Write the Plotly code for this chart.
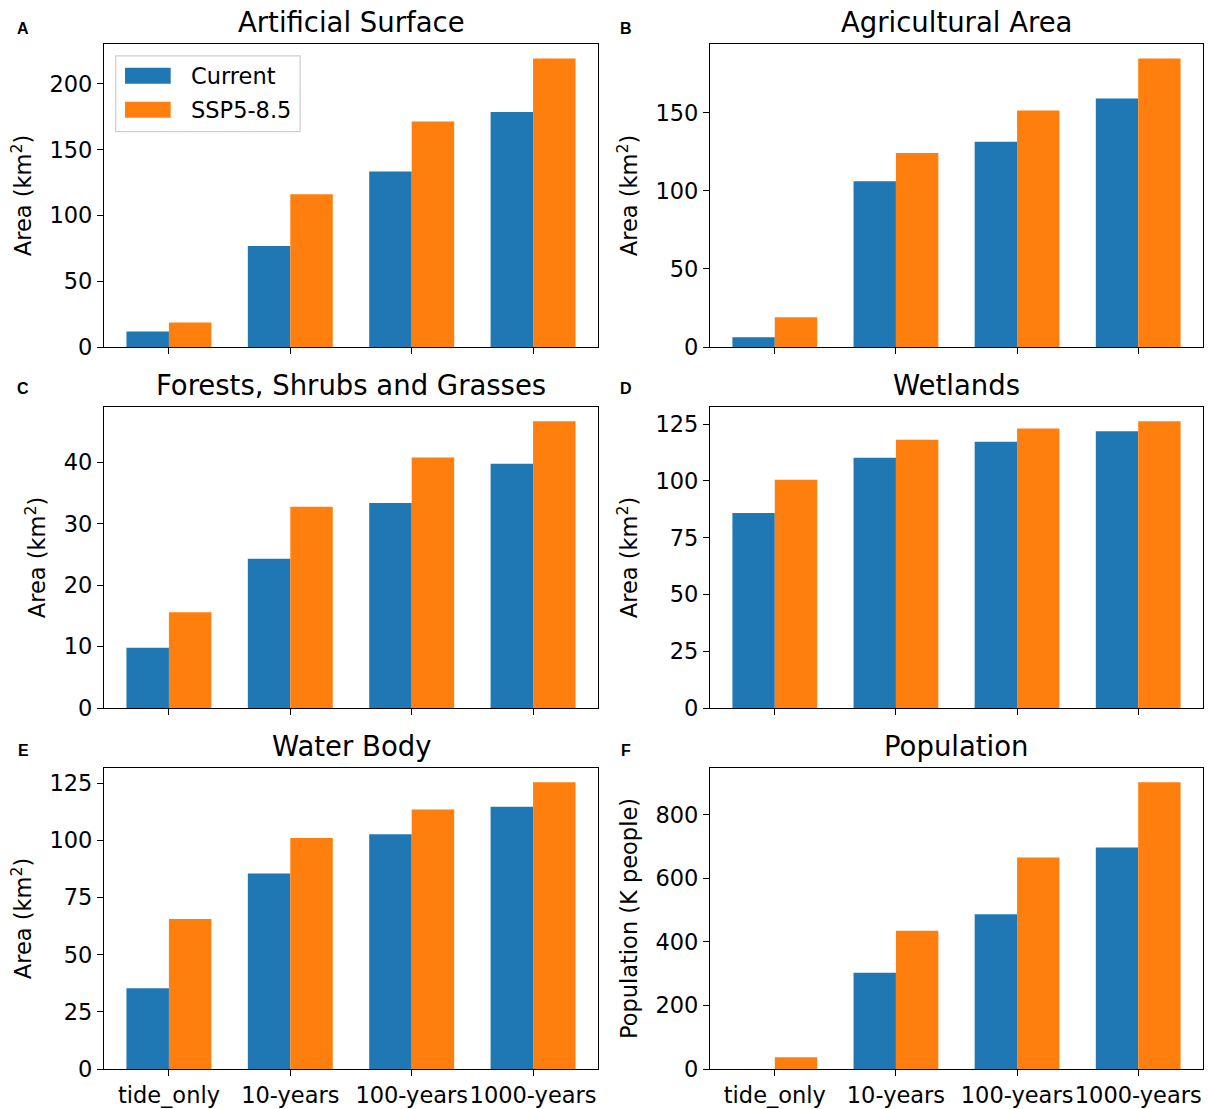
import plotly.graph_objects as go

# ---------------- data ----------------
categories = ["tide_only", "10-years", "100-years", "1000-years"]
series_names = ["Current", "SSP5-8.5"]
series_colors = ["#1f77b4", "#ff7f0e"]

panel_titles = ["Artificial Surface", "Agricultural Area", "Forests, Shrubs and Grasses",
                "Wetlands", "Water Body", "Population"]
panel_letters = ["A", "B", "C", "D", "E", "F"]
y_titles = ["Area (km<sup>2</sup>)"] * 5 + ["Population (K people)"]
y_dticks = [50, 50, 10, 25, 25, 200]

artificial_current = [11.7, 76.8, 133.4, 178.6]
artificial_ssp = [18.6, 116.1, 171.4, 219.4]
agricultural_current = [6.2, 106.1, 131.4, 159.0]
agricultural_ssp = [19.1, 124.1, 151.3, 184.7]
forest_current = [9.8, 24.3, 33.4, 39.8]
forest_ssp = [15.6, 32.8, 40.8, 46.7]
wetlands_current = [85.9, 110.2, 117.2, 121.8]
wetlands_ssp = [100.5, 118.1, 123.1, 126.2]
water_current = [35.3, 85.5, 102.7, 114.7]
water_ssp = [65.6, 101.0, 113.5, 125.4]
population_current = [0.0, 302.6, 487.0, 697.0]
population_ssp = [36.6, 434.6, 665.0, 901.6]

panels = [
    (artificial_current, artificial_ssp),
    (agricultural_current, agricultural_ssp),
    (forest_current, forest_ssp),
    (wetlands_current, wetlands_ssp),
    (water_current, water_ssp),
    (population_current, population_ssp),
]

# ---------------- layout geometry ----------------
W, H = 1208, 1109
col_domains = [[104 / W, 598 / W], [710 / W, 1203 / W]]
row_px = [(44, 347), (407, 708), (768, 1069)]
row_domains = [[1 - b / H, 1 - t / H] for t, b in row_px]

FONT = "DejaVu Sans"
TICK_SIZE = 22.5
TITLE_SIZE = 27.5
BAR_W = 0.35
x_pos = list(range(len(categories)))

fig = go.Figure()
layout = dict(
    width=W, height=H,
    margin=dict(l=0, r=0, t=0, b=0),
    paper_bgcolor="white", plot_bgcolor="white",
    showlegend=False,
    font=dict(family=FONT, size=TICK_SIZE, color="black"),
    barmode="overlay",
)
annotations = []
shapes = []

for i, (cur, ssp) in enumerate(panels):
    r, c = divmod(i, 2)
    sfx = "" if i == 0 else str(i + 1)
    xa, ya = "x" + sfx, "y" + sfx
    for k, vals in enumerate((cur, ssp)):
        fig.add_trace(go.Bar(
            x=x_pos, y=vals, name=series_names[k],
            width=BAR_W, offset=-BAR_W if k == 0 else 0.0,
            marker=dict(color=series_colors[k], line=dict(width=0)),
            xaxis=xa, yaxis=ya, showlegend=False,
        ))
    ymax = max(max(cur), max(ssp)) * 1.05
    bottom_row = (r == 2)
    layout["xaxis" + sfx] = dict(
        domain=col_domains[c], anchor=ya,
        range=[-0.535, len(categories) - 1 + 0.535],
        tickmode="array", tickvals=x_pos, ticktext=categories,
        showticklabels=bottom_row, tickangle=0,
        ticks="outside", ticklen=6, tickwidth=1.3, tickcolor="black",
        showline=True, linecolor="black", linewidth=1.3, mirror=True,
        showgrid=False, zeroline=False,
        tickfont=dict(family=FONT, size=TICK_SIZE, color="black"),
        automargin=False,
    )
    layout["yaxis" + sfx] = dict(
        domain=row_domains[r], anchor=xa,
        range=[0, ymax], dtick=y_dticks[i], tick0=0,
        ticks="outside", ticklen=6, tickwidth=1.3, tickcolor="black",
        showline=True, linecolor="black", linewidth=1.3, mirror=True,
        showgrid=False, zeroline=False,
        tickfont=dict(family=FONT, size=TICK_SIZE, color="black"),
        title=dict(text=y_titles[i], font=dict(family=FONT, size=TICK_SIZE, color="black"),
                   standoff=11),
        automargin=False,
    )
    # panel title
    annotations.append(dict(
        text=panel_titles[i], xref=xa + " domain", yref=ya + " domain",
        x=0.5, y=1, xanchor="center", yanchor="bottom", yshift=4, showarrow=False,
        font=dict(family=FONT, size=TITLE_SIZE, color="black"),
    ))
    # panel letter
    lx = 23 if c == 0 else 626
    ly = [28, 388, 750][r]
    annotations.append(dict(
        text="<b>%s</b>" % panel_letters[i], xref="paper", yref="paper",
        x=lx / W, y=1 - ly / H, xanchor="center", yanchor="middle", showarrow=False,
        font=dict(family="Liberation Sans", size=16, color="black"),
    ))

# legend drawn in panel A (axes-relative box, swatches and labels)
shapes.append(dict(type="rect", xref="x domain", yref="y domain",
                   x0=0.0237, x1=0.397, y0=0.7106, y1=0.961,
                   line=dict(color="#d0d0d0", width=1.3), fillcolor="white", layer="above"))
leg_y = [(0.9218, 0.8690, 0.895), (0.8096, 0.7568, 0.783)]
for k in range(2):
    y1, y0, yc = leg_y[k]
    shapes.append(dict(type="rect", xref="x domain", yref="y domain",
                       x0=0.0425, x1=0.135, y0=y0, y1=y1,
                       line=dict(width=0), fillcolor=series_colors[k], layer="above"))
    annotations.append(dict(text=series_names[k], xref="x domain", yref="y domain",
                            x=0.172, y=yc, xanchor="left", yanchor="middle", showarrow=False,
                            font=dict(family=FONT, size=TICK_SIZE, color="black")))

layout["annotations"] = annotations
layout["shapes"] = shapes
fig.update_layout(**layout)
fig.write_html("out.html", config={"displayModeBar": False},
               post_script="document.body.style.margin='0';document.body.style.padding='0';")
